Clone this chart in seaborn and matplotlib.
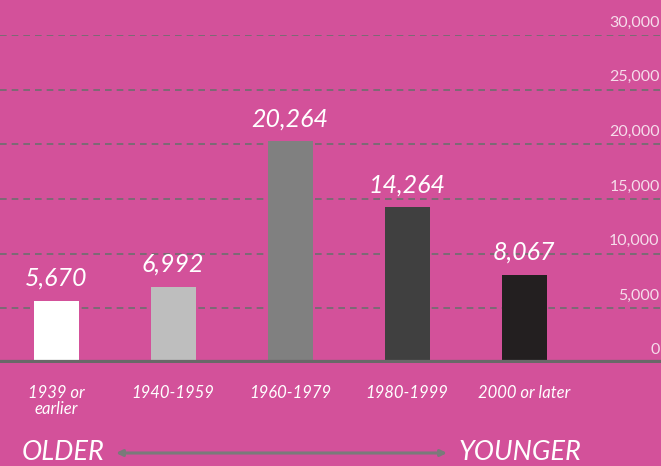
import matplotlib
matplotlib.use("Agg")
import matplotlib.pyplot as plt
import matplotlib.transforms as mtrans
import seaborn as sns
import pandas as pd

# chart data
periods = ["1939 or\nearlier", "1940-1959", "1960-1979", "1980-1999", "2000 or later"]
homes = [5670, 6992, 20264, 14264, 8067]
bar_colors = ["#FFFFFF", "#BEBEBE", "#808080", "#404040", "#231F20"]
y_ticks = [0, 5000, 10000, 15000, 20000, 25000, 30000]

pink = "#D3519A"
df = pd.DataFrame({"period": periods, "homes": homes})

sns.set_theme(style="white")
plt.rcParams["font.family"] = ["Lato", "DejaVu Sans"]

fig = plt.figure(figsize=(6.61, 4.66), dpi=100, facecolor=pink)
ax = fig.add_axes([0, 0.221, 1, 0.704])
ax.set_facecolor(pink)

sns.barplot(data=df, x="period", y="homes", hue="period", palette=bar_colors,
            legend=False, width=0.385, saturation=1, linewidth=0, ax=ax, zorder=2)

ax.set_xlim(-0.479, 5.17)
ax.set_ylim(0, 30000)

# dashed gridlines
for t in y_ticks[1:]:
    ax.axhline(t, color="#6E6E6E", lw=1.2, ls=(0, (4, 3)), zorder=1)
# thick baseline
ax.axhline(0, color="#686868", lw=4.5, zorder=3)

# value labels above bars
for i, v in enumerate(homes):
    ax.text(i, v + 1000, f"{v:,}", ha="center", va="bottom", color="white",
            fontsize=18, fontstyle="italic", zorder=4)

# y tick labels on the right, sitting above each gridline
ax.yaxis.tick_right()
ax.set_yticks(y_ticks)
ax.set_yticklabels([f"{t:,}" for t in y_ticks])
ax.tick_params(axis="y", length=0, pad=-1, labelsize=11.5, labelcolor="#F6DDEB")
offset = mtrans.ScaledTranslation(0, 4 / 72, fig.dpi_scale_trans)
for lab in ax.get_yticklabels():
    lab.set_horizontalalignment("right")
    lab.set_verticalalignment("bottom")
    lab.set_transform(lab.get_transform() + offset)

ax.tick_params(axis="x", length=0, pad=16, labelsize=12, labelcolor="white")
for lab in ax.get_xticklabels():
    lab.set_fontstyle("italic")
    lab.set_linespacing(0.95)

ax.set_xlabel("")
ax.set_ylabel("")
for s in ax.spines.values():
    s.set_visible(False)

# older / younger arrow
fig.text(22 / 661, 1 - 452 / 466, "OLDER", ha="left", va="center", color="white",
         fontsize=19.5, fontstyle="italic")
fig.text(459 / 661, 1 - 452 / 466, "YOUNGER", ha="left", va="center", color="white",
         fontsize=19.5, fontstyle="italic")
ax.annotate("", xy=(447 / 661, 1 - 453 / 466), xytext=(116 / 661, 1 - 453 / 466),
            xycoords="figure fraction", textcoords="figure fraction",
            arrowprops=dict(arrowstyle="<|-|>", color="#7A7A7A", lw=2.2,
                            mutation_scale=9, shrinkA=0, shrinkB=0))

fig.savefig("out.png", dpi=100, facecolor=pink)
